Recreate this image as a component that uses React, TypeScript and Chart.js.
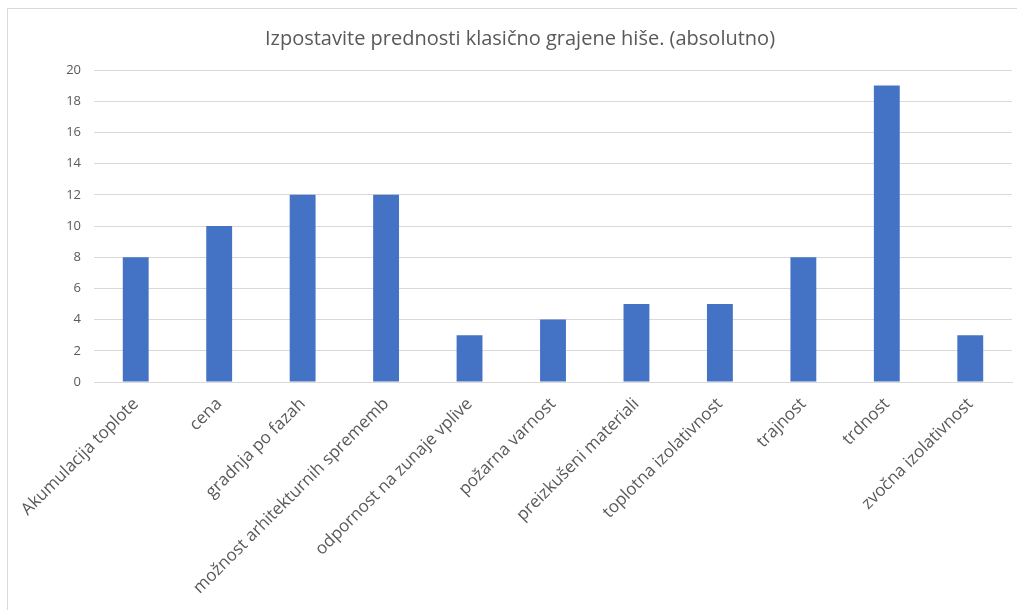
import React, { useEffect, useRef } from "react";
import { Chart, registerables } from "chart.js";

Chart.register(...registerables);

const titleText = "Izpostavite prednosti klasično grajene hiše. (absolutno)";

const categories = [
  "Akumulacija toplote",
  "cena",
  "gradnja po fazah",
  "možnost arhitekturnih sprememb",
  "odpornost na zunaje vplive",
  "požarna varnost",
  "preizkušeni materiali",
  "toplotna izolativnost",
  "trajnost",
  "trdnost",
  "zvočna izolativnost",
];

const counts = [8, 10, 12, 12, 3, 4, 5, 5, 8, 19, 3];

const yTicks = { min: 0, max: 20, step: 2 };

const FONT = "'Open Sans', 'Noto Sans', sans-serif";
const TEXT = "#595959";
const GRID = "#d9d9d9";
const BAR = "#4472C4";

export default function App() {
  const canvasRef = useRef<HTMLCanvasElement | null>(null);

  useEffect(() => {
    const canvas = canvasRef.current;
    if (!canvas) return;
    const chart = new Chart(canvas, {
      type: "bar",
      data: {
        labels: categories,
        datasets: [
          {
            data: counts,
            backgroundColor: BAR,
            borderWidth: 0,
            barPercentage: 0.31,
            categoryPercentage: 1.0,
            yAxisID: "y",
          },
        ],
      },
      options: {
        animation: false,
        responsive: false,
        maintainAspectRatio: false,
        layout: { padding: 0 },
        plugins: {
          legend: { display: false },
          tooltip: { enabled: false },
          title: {
            display: true,
            text: titleText,
            color: TEXT,
            font: { family: FONT, size: 20, weight: "normal" },
            padding: { top: 18, bottom: 19 },
          },
        },
        scales: {
          x: {
            grid: { display: false, drawTicks: false },
            border: { display: true, color: GRID, width: 1 },
            ticks: {
              color: TEXT,
              font: { family: FONT, size: 17 },
              minRotation: 45,
              maxRotation: 45,
              autoSkip: false,
              padding: 12,
            },
            afterFit: (scale: any) => {
              scale.height = 237;
            },
          },
          y: {
            min: yTicks.min,
            max: yTicks.max,
            grid: { color: GRID, lineWidth: 1, drawTicks: false },
            border: { display: false },
            ticks: {
              stepSize: yTicks.step,
              color: TEXT,
              font: { family: FONT, size: 13 },
              padding: 13,
            },
            afterFit: (scale: any) => {
              scale.width = 86;
            },
          },
          // empty right-hand gutter between the plot and the chart's edge
          gutter: {
            type: "linear",
            position: "right",
            min: yTicks.min,
            max: yTicks.max,
            grid: { display: false, drawTicks: false },
            border: { display: false },
            ticks: { display: false },
            afterFit: (scale: any) => {
              scale.width = 20;
            },
          },
        },
      },
    });
    return () => chart.destroy();
  }, []);

  return (
    <div
      style={{
        position: "fixed",
        left: 0,
        top: 0,
        width: 1017,
        height: 610,
        overflow: "hidden",
        background: "#fff",
      }}
    >
      <div
        style={{
          position: "absolute",
          left: 7,
          top: 8,
          width: 1026,
          height: 620,
          border: `1px solid ${GRID}`,
          boxSizing: "border-box",
          background: "#fff",
        }}
      >
        <canvas ref={canvasRef} width={1024} height={610} style={{ display: "block" }} />
      </div>
    </div>
  );
}
